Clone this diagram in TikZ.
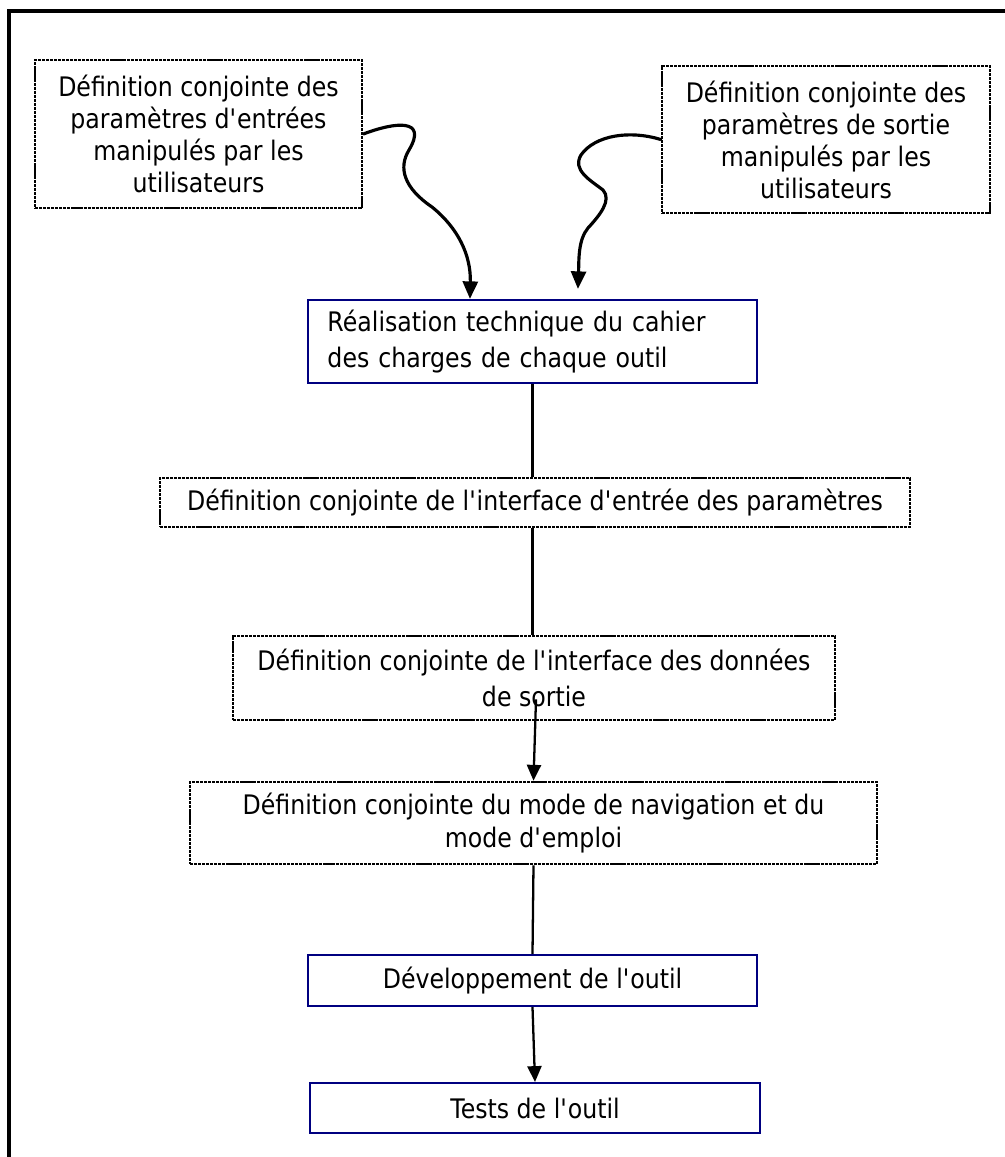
\documentclass[tikz,border=0pt]{standalone}
\usepackage{fontspec}
\setmainfont{DejaVu Sans}[FakeStretch=0.88]
\usepackage{tikz}
\usetikzlibrary{arrows.meta,calc}

\definecolor{boxblue}{RGB}{0,0,128}
\newcommand{\ap}{\textquotesingle}

\tikzset{
  dotbox/.style={draw=black, line width=1.5pt, dash pattern=on 1.8pt off 0.5pt,
    align=center, inner sep=0pt, font=\fontsize{15.3}{18.2}\selectfont},
  bluebox/.style={draw=boxblue, line width=1.2pt, align=center, inner sep=0pt,
    font=\fontsize{15.3}{18.2}\selectfont},
  link/.style={line width=1.3pt},
  flow/.style={line width=1.3pt, -{Triangle[width=8pt,length=9pt]}},
  wavy/.style={line width=1.8pt, line cap=round, -{Triangle[width=8.5pt,length=10pt]}}
}

\begin{document}
\begin{tikzpicture}[x=0.2mm, y=-0.2mm]
  \useasboundingbox (0,0) rectangle (1005,1157);

  % cadre
  \draw[line width=2.2pt] (9,1170) -- (9,11) -- (1020,11);

  \node[dotbox, minimum width=65.4mm, minimum height=29.6mm] (entrees) at (198.5,134)
    {D\'efinition conjointe des\\param\`etres d\ap entr\'ees\\manipul\'es par les\\utilisateurs};
  \node[dotbox, minimum width=65.6mm, minimum height=29.4mm] (sorties) at (826,139.5)
    {D\'efinition conjointe des\\param\`etres de sortie\\manipul\'es par les\\utilisateurs};

  \node[bluebox, minimum width=89.8mm, minimum height=16.6mm, text width=82mm, align=left,
    font=\fontsize{15.3}{21}\selectfont] (cahier) at (532.5,341.5)
    {R\'ealisation technique du cahier\\des charges de chaque outil};

  \node[dotbox, minimum width=150mm, minimum height=9.8mm] (ientree) at (535,502.5)
    {D\'efinition conjointe de l\ap interface d\ap entr\'ee des param\`etres};
  \node[dotbox, minimum width=120.4mm, minimum height=16.8mm,
    font=\fontsize{15.3}{20}\selectfont] (isortie) at (534,678)
    {D\'efinition conjointe de l\ap interface des donn\'ees\\de sortie};
  \node[dotbox, minimum width=137.4mm, minimum height=16.4mm,
    font=\fontsize{15.3}{18.8}\selectfont] (navig) at (533.5,823)
    {D\'efinition conjointe du mode de navigation et du\\mode d\ap emploi};

  \node[bluebox, minimum width=89.8mm, minimum height=10.2mm] (dev) at (532.5,980.5)
    {D\'eveloppement de l\ap outil};
  \node[bluebox, minimum width=90mm, minimum height=10mm] (tests) at (535,1108)
    {Tests de l\ap outil};

  % fleches ondulees
  \draw[wavy] (entrees.east) .. controls (395,122) and (428,118) .. (409,150)
    .. controls (398,168) and (404,188) .. (432,207)
    .. controls (458,228) and (471,255) .. ($(cahier.north west)+(163,0)$);
  \draw[wavy] (sorties.west) .. controls (630,130) and (595,135) .. (581,155)
    .. controls (572,170) and (590,180) .. (603,190)
    .. controls (612,200) and (600,215) .. (588,228)
    .. controls (578,240) and (579,260) .. ($(cahier.north west)+(271,-10)$);

  \draw[link] (cahier.south) -- (cahier.south |- ientree.north);
  \draw[link] (cahier.south |- ientree.south) -- (cahier.south |- isortie.north);
  \draw[flow] ($(isortie.south)+(2,-22)$) -- (navig.north);
  \draw[link] (navig.south) -- (dev.north);
  \draw[flow] (dev.south) -- (tests.north);
\end{tikzpicture}
\end{document}
